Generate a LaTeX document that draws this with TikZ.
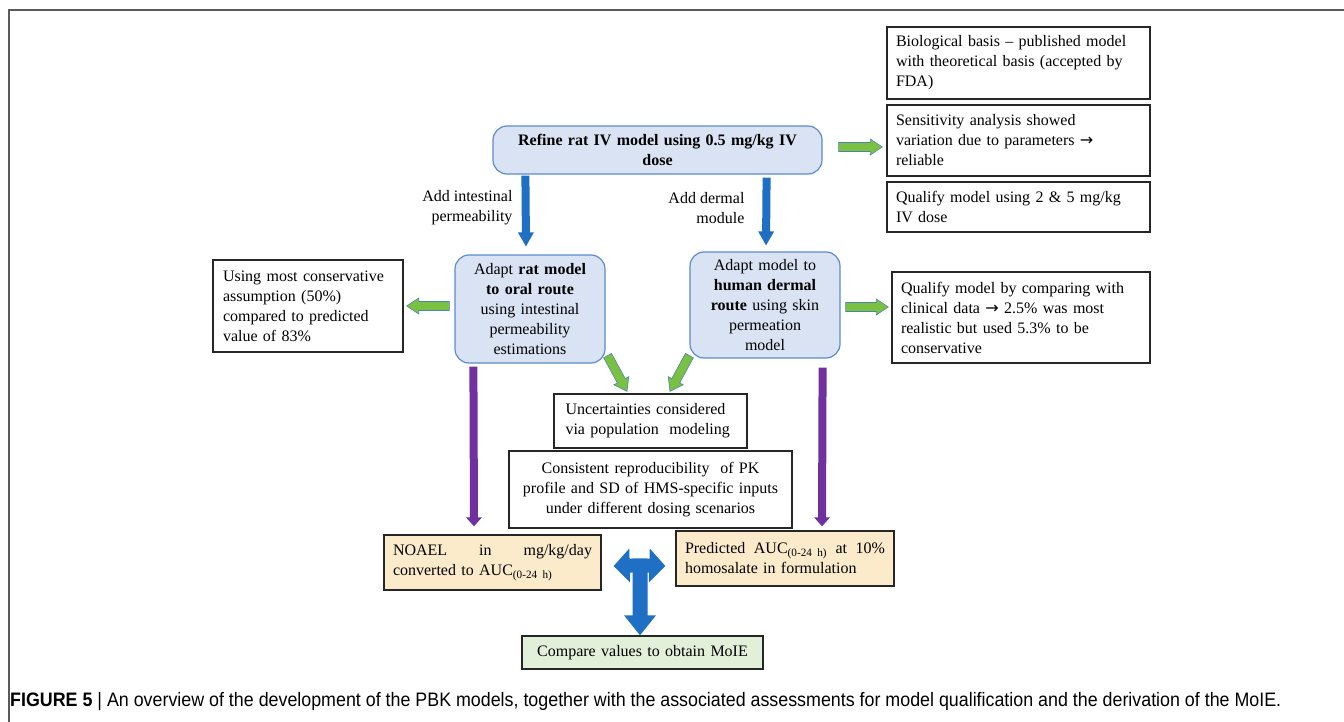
\documentclass[tikz,border=0pt]{standalone}
\usepackage{fontspec}
\setmainfont{Liberation Serif}
\newfontfamily\capfont{Liberation Sans}
\newfontfamily\symfont{DejaVu Sans}
\usetikzlibrary{calc}
\definecolor{rbfill}{HTML}{DAE3F3}
\definecolor{rbdraw}{HTML}{5B8BD0}
\definecolor{tanfill}{HTML}{FCEBCB}
\definecolor{grnfill}{HTML}{E2F0D9}
\definecolor{garrow}{HTML}{7AC143}
\definecolor{garrowline}{HTML}{4A86A8}
\definecolor{barrowc}{HTML}{1F6FC5}
\definecolor{parrow}{HTML}{7030A0}
\definecolor{framec}{HTML}{5A5A5A}
\newcommand{\rarr}{{\symfont →}}
\newcommand{\barrow}[6]{%
  \begin{scope}
  \path (#2) coordinate (baA) (#3) coordinate (baB);
  \pgfpointdiff{\pgfpointanchor{baA}{center}}{\pgfpointanchor{baB}{center}}%
  \pgfgetlastxy{\baDX}{\baDY}%
  \pgfmathsetmacro{\baAng}{atan2(\baDY,\baDX)}%
  \pgfmathsetmacro{\baLen}{veclen(\baDX,\baDY)}%
  \path[#1,shift={(baA)},rotate=\baAng] (0pt,-#4) -- ({\baLen pt-#6},-#4) -- ({\baLen pt-#6},-#5) -- (\baLen pt,0pt) -- ({\baLen pt-#6},#5) -- ({\baLen pt-#6},#4) -- (0pt,#4) -- cycle;
  \end{scope}}
\tikzset{
  txt/.style={font=\fontsize{16}{20}\selectfont},
  rbox/.style={txt, draw=rbdraw, line width=1.2pt, fill=rbfill, rounded corners=14pt, align=center, inner sep=2pt},
  sbox/.style={txt, draw=black!85, line width=1.4pt, align=left, inner xsep=9pt, inner ysep=2pt},
  garr/.style={fill=garrow, draw=garrowline, line width=0.6pt},
  barr/.style={fill=barrowc},
  parr/.style={fill=parrow},
}
\begin{document}
\begin{tikzpicture}[x=1pt,y=-1pt]
\useasboundingbox (0,0) rectangle (1344,722);
% frame
\draw[framec, line width=1.8pt] (9,722) -- (9,10) -- (1344,10);
% nodes
\node[rbox, minimum width=329pt, minimum height=48pt, text width=320pt] (top) at (657.5,150) {\textbf{Refine rat IV model using 0.5 mg/kg IV}\\\textbf{dose}};
\node[sbox, minimum width=263pt, minimum height=72pt, text width=245pt] (A) at (1018.5,63) {Biological basis -- published model\\with theoretical basis (accepted by\\FDA)};
\node[sbox, minimum width=263pt, minimum height=71pt, text width=245pt] (B) at (1018.5,140.5) {Sensitivity analysis showed\\variation due to parameters \rarr\\reliable};
\node[sbox, minimum width=263pt, minimum height=50pt, text width=245pt] (C) at (1018.5,207) {Qualify model using 2 \& 5 mg/kg\\IV dose};
\node[rbox, minimum width=150pt, minimum height=108pt, text width=144pt] (oral) at (530,309) {Adapt \textbf{rat model}\\\textbf{to oral route}\\using intestinal\\permeability\\estimations};
\node[rbox, minimum width=150pt, minimum height=106pt, text width=144pt] (dermal) at (765,305) {Adapt model to\\\textbf{human dermal}\\\textbf{route} using skin\\permeation\\model};
\node[sbox, minimum width=190pt, minimum height=92pt, text width=170pt, inner xsep=10pt] (cons) at (308,306) {Using most conservative\\assumption (50\%)\\compared to predicted\\value of 83\%};
\node[sbox, minimum width=258pt, minimum height=91pt, text width=240pt] (qual) at (1021,317.5) {Qualify model by comparing with\\clinical data \rarr\ 2.5\% was most\\realistic but used 5.3\% to be\\conservative};
\node[sbox, minimum width=193pt, minimum height=54pt, text width=170pt] (unc) at (650.5,421) {Uncertainties considered\\via population\ \ modeling};
\node[sbox, minimum width=283pt, minimum height=77pt, text width=265pt, align=center] (cons2) at (650.5,489.5) {Consistent reproducibility\ \ of PK\\profile and SD of HMS-specific inputs\\under different dosing scenarios};
\node[sbox, fill=tanfill, minimum width=217pt, minimum height=55pt, text width=199pt] (noael) at (492.5,562.5) {NOAEL\hfill in\hfill mg/kg/day\\converted to AUC\textsubscript{(0-24 h)}};
\node[sbox, fill=tanfill, minimum width=218pt, minimum height=55pt, text width=200pt] (pred) at (785,558.5) {Predicted\hfill AUC\textsubscript{(0-24 h)}\hfill at\hfill 10\%\\homosalate in formulation};
\node[sbox, fill=grnfill, minimum width=241pt, minimum height=33pt, text width=223pt, align=center] (compare) at (642.5,652.5) {Compare values to obtain MoIE};
% labels
\node[txt, align=right, anchor=east] (l1) at (516,208) {Add intestinal\\permeability};
\node[txt, align=right, anchor=east] (l2) at (748,208) {Add dermal\\module};
% arrow endpoints
\coordinate (g1s) at ($(top.east)+(16,-3)$);
\coordinate (g1e) at ($(B.west)+(-4,6.5)$);
\coordinate (b1s) at ($(top.south west)+(33,1)$);
\coordinate (b1e) at ($(oral.north)+(-4,-8)$);
\coordinate (b2s) at ($(top.south east)+(-56,3)$);
\coordinate (b2e) at ($(dermal.north)+(1,-6)$);
\coordinate (g2s) at ($(oral.west)+(-5,-3)$);
\coordinate (g2e) at ($(cons.east)+(3,0)$);
\coordinate (g3s) at ($(dermal.east)+(5,2)$);
\coordinate (g3e) at ($(qual.west)+(-3,-10.5)$);
\coordinate (d1s) at ($(oral.south east)+(2,-8)$);
\coordinate (d1e) at ($(unc.north)+(-23.5,-2)$);
\coordinate (d2s) at ($(dermal.south west)+(0,-3)$);
\coordinate (d2e) at ($(unc.north)+(19.5,-2)$);
\coordinate (p1s) at ($(oral.south west)+(19,3)$);
\coordinate (p1e) at ($(noael.north)+(-18.5,-8)$);
\coordinate (p2s) at ($(dermal.south east)+(-18,9)$);
\coordinate (p2e) at ($(pred.north)+(37,-4)$);
\coordinate (tc) at ($(compare.north)+(-2.5,-70)$);
\coordinate (tl) at ($(noael.east)+(12,3.5)$);
\coordinate (tr) at ($(pred.west)+(-10,7.5)$);
\coordinate (td) at ($(compare.north)+(-2.5,0)$);
% arrows
\barrow{garr}{g1s}{g1e}{4.5pt}{8pt}{12pt}
\barrow{barr}{b1s}{b1e}{4pt}{8pt}{14pt}
\barrow{barr}{b2s}{b2e}{4pt}{8pt}{14pt}
\barrow{garr}{g2s}{g2e}{4.5pt}{8pt}{12pt}
\barrow{garr}{g3s}{g3e}{4.5pt}{8pt}{12pt}
\barrow{garr}{d1s}{d1e}{4.5pt}{8.5pt}{12pt}
\barrow{garr}{d2s}{d2e}{4.5pt}{8.5pt}{12pt}
\barrow{parr}{p1s}{p1e}{4pt}{8pt}{9pt}
\barrow{parr}{p2s}{p2e}{4pt}{8pt}{9pt}
\barrow{barr}{tc}{tl}{7pt}{17pt}{16pt}
\barrow{barr}{tc}{tr}{7pt}{17pt}{16pt}
\barrow{barr}{tc}{td}{7.5pt}{16pt}{20pt}
% caption
\node[anchor=base west, inner sep=0pt] (cap) at (10,706) {\scalebox{0.915}[1]{\capfont\fontsize{19.5}{23}\selectfont\textbf{FIGURE 5} | An overview of the development of the PBK models, together with the associated assessments for model qualification and the derivation of the MoIE.}};
\end{tikzpicture}
\end{document}
